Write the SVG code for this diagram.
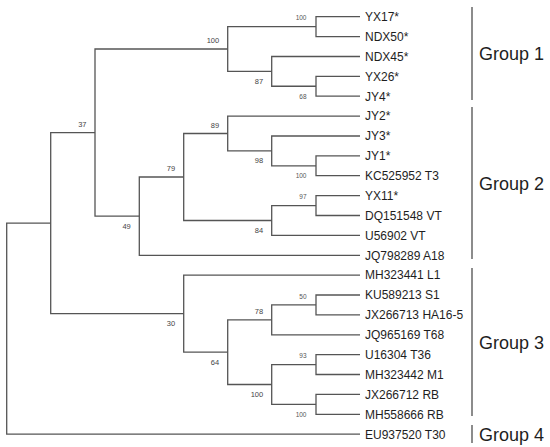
<svg xmlns="http://www.w3.org/2000/svg" width="550" height="447" viewBox="0 0 550 447">
<style>
.br{fill:none;stroke:#555;stroke-width:1.3}
.bar{stroke:#666;stroke-width:1.5}
.leaf{font-family:"Liberation Sans",Arial,sans-serif;font-size:12px;fill:#1e1e1e}
.bs{font-family:"Liberation Sans",Arial,sans-serif;font-size:7.5px;fill:#444;text-anchor:end}
.bs2{font-family:"Liberation Sans",Arial,sans-serif;font-size:6.5px;fill:#555;text-anchor:end}
.grp{font-family:"Liberation Sans",Arial,sans-serif;font-size:18px;fill:#1e1e1e}
</style>
<rect width="550" height="447" fill="#fff"/>
<g id="connectors">
<path class="br" d="M360,16.7 H316 V36.6 H360"/>
<path class="br" d="M360,76.3 H316 V96.2 H360"/>
<path class="br" d="M360,56.5 H271.7 V86.25 H316"/>
<path class="br" d="M316,26.65 H227.7 V71.4 H271.7"/>
<path class="br" d="M360,155.9 H316 V175.7 H360"/>
<path class="br" d="M360,136 H271.7 V165.8 H316"/>
<path class="br" d="M360,116.1 H227.7 V150.9 H271.7"/>
<path class="br" d="M360,195.6 H316 V215.5 H360"/>
<path class="br" d="M316,205.55 H271.7 V235.4 H360"/>
<path class="br" d="M227.7,133.5 H183.7 V220.5 H271.7"/>
<path class="br" d="M183.7,177 H139.3 V255.3 H360"/>
<path class="br" d="M227.7,49 H95 V216.15 H139.3"/>
<path class="br" d="M360,295 H316 V314.9 H360"/>
<path class="br" d="M316,304.95 H271.7 V334.8 H360"/>
<path class="br" d="M360,354.7 H316 V374.5 H360"/>
<path class="br" d="M360,394.4 H316 V414.3 H360"/>
<path class="br" d="M316,364.6 H271.7 V404.35 H316"/>
<path class="br" d="M271.7,319.9 H227.7 V384.5 H271.7"/>
<path class="br" d="M360,275.1 H183.7 V352.2 H227.7"/>
<path class="br" d="M95,132.6 H50.7 V313.65 H183.7"/>
<path class="br" d="M50.7,223.1 H6.7 V434.2 H360"/>
</g>
<g id="bootstrap">
<text class="bs2" x="306.5" y="20.4">100</text>
<text class="bs2" x="306.5" y="98.5">68</text>
<text class="bs" x="263.2" y="84">87</text>
<text class="bs" x="219.2" y="43">100</text>
<text class="bs" x="219.2" y="127.5">89</text>
<text class="bs" x="263.2" y="163.4">98</text>
<text class="bs2" x="306.5" y="178">100</text>
<text class="bs2" x="306.5" y="199.3">97</text>
<text class="bs" x="175.2" y="171">79</text>
<text class="bs" x="263.2" y="233">84</text>
<text class="bs" x="130.8" y="228.6">49</text>
<text class="bs" x="86.5" y="126.6">37</text>
<text class="bs" x="175.2" y="326.1">30</text>
<text class="bs" x="263.2" y="313.9">78</text>
<text class="bs" x="219.2" y="364.7">64</text>
<text class="bs" x="263.2" y="397">100</text>
<text class="bs2" x="306.5" y="298.7">50</text>
<text class="bs2" x="306.5" y="358.4">93</text>
<text class="bs2" x="306.5" y="416.6">100</text>
</g>
<g id="n-YX17"><text class="leaf" x="365" y="21">YX17*</text></g>
<g id="n-NDX50"><text class="leaf" x="365" y="40.9">NDX50*</text></g>
<g id="n-NDX45"><text class="leaf" x="365" y="60.8">NDX45*</text></g>
<g id="n-YX26"><text class="leaf" x="365" y="80.6">YX26*</text></g>
<g id="n-JY4"><text class="leaf" x="365" y="100.5">JY4*</text></g>
<g id="n-JY2"><text class="leaf" x="365" y="120.4">JY2*</text></g>
<g id="n-JY3"><text class="leaf" x="365" y="140.3">JY3*</text></g>
<g id="n-JY1"><text class="leaf" x="365" y="160.2">JY1*</text></g>
<g id="n-KC525952"><text class="leaf" x="365" y="180">KC525952 T3</text></g>
<g id="n-YX11"><text class="leaf" x="365" y="199.9">YX11*</text></g>
<g id="n-DQ151548"><text class="leaf" x="365" y="219.8">DQ151548 VT</text></g>
<g id="n-U56902"><text class="leaf" x="365" y="239.7">U56902 VT</text></g>
<g id="n-JQ798289"><text class="leaf" x="365" y="259.6">JQ798289 A18</text></g>
<g id="n-MH323441"><text class="leaf" x="365" y="279.4">MH323441 L1</text></g>
<g id="n-KU589213"><text class="leaf" x="365" y="299.3">KU589213 S1</text></g>
<g id="n-JX266713"><text class="leaf" x="365" y="319.2">JX266713 HA16-5</text></g>
<g id="n-JQ965169"><text class="leaf" x="365" y="339.1">JQ965169 T68</text></g>
<g id="n-U16304"><text class="leaf" x="365" y="359">U16304 T36</text></g>
<g id="n-MH323442"><text class="leaf" x="365" y="378.8">MH323442 M1</text></g>
<g id="n-JX266712"><text class="leaf" x="365" y="398.7">JX266712 RB</text></g>
<g id="n-MH558666"><text class="leaf" x="365" y="418.6">MH558666 RB</text></g>
<g id="n-EU937520"><text class="leaf" x="365" y="438.5">EU937520 T30</text></g>
<g id="group1"><line class="bar" x1="472" y1="7" x2="472" y2="100"/><text class="grp" x="479" y="60">Group 1</text></g>
<g id="group2"><line class="bar" x1="472" y1="107" x2="472" y2="259"/><text class="grp" x="479" y="189.5">Group 2</text></g>
<g id="group3"><line class="bar" x1="472" y1="268" x2="472" y2="416"/><text class="grp" x="479" y="348.5">Group 3</text></g>
<g id="group4"><line class="bar" x1="472" y1="425" x2="472" y2="443"/><text class="grp" x="479" y="440.5">Group 4</text></g>
</svg>
